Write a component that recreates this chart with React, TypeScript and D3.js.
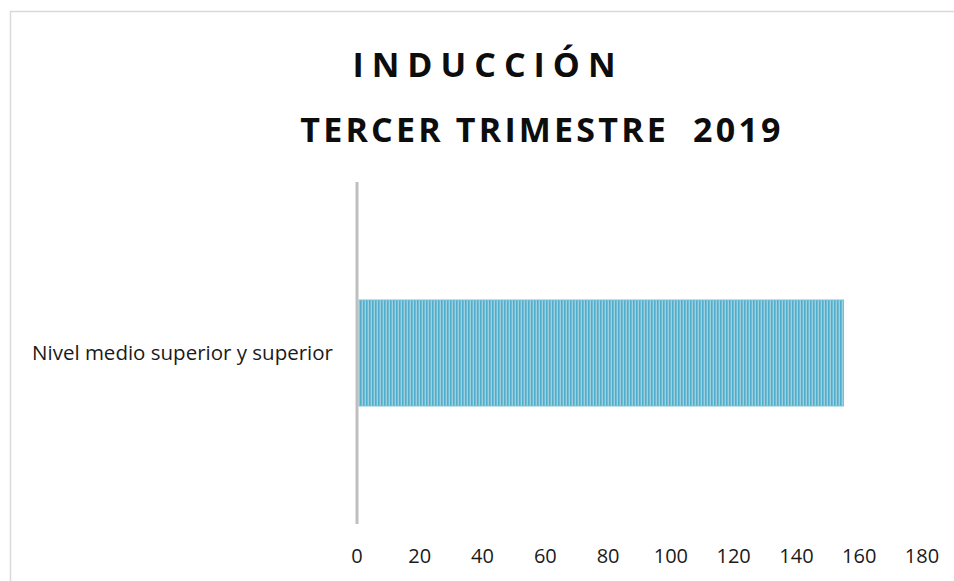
import React from "react";
import * as d3 from "d3";

const categories = ["Nivel medio superior y superior"];
const values = [155];
const xTicks = [0, 20, 40, 60, 80, 100, 120, 140, 160, 180];
const titleLines = ["INDUCCIÓN", "TERCER TRIMESTRE  2019"];

const W = 954;
const H = 581;

const App = () => {
  const margin = { top: 182, right: 32, bottom: 57, left: 357 };

  const x = d3
    .scaleLinear()
    .domain([0, 180])
    .range([margin.left, W - margin.right]);

  const y = d3
    .scaleBand()
    .domain(categories)
    .range([margin.top, H - margin.bottom])
    .paddingInner(0.527)
    .paddingOuter(0.527);

  return (
    <svg
      width={W}
      height={H}
      style={{ position: "absolute", left: 0, top: 0, background: "#fff" }}
    >
      <defs>
        <pattern id="stripes" width="3" height="10" patternUnits="userSpaceOnUse">
          <rect x="0" y="0" width="3" height="10" fill="#9fd0df" />
          <rect x="0" y="0" width="1.6" height="10" fill="#4eaecb" />
        </pattern>
      </defs>

      {/* chart border */}
      <rect x={10.5} y={11.5} width={W} height={H} fill="none" stroke="#d9d9d9" strokeWidth={1.5} />

      {/* title */}
      <text
        x={488}
        y={77}
        textAnchor="middle"
        fontFamily="'Open Sans', sans-serif"
        fontWeight="bold"
        fontSize={34}
        letterSpacing={8}
        fill="#0d0d0d"
      >
        {titleLines[0]}
      </text>
      <text
        x={542}
        y={142}
        textAnchor="middle"
        fontFamily="'Open Sans', sans-serif"
        fontWeight="bold"
        fontSize={34}
        letterSpacing={3.2}
        fill="#0d0d0d"
        style={{ whiteSpace: "pre" }}
      >
        {titleLines[1]}
      </text>

      {/* bars */}
      {categories.map((c, i) => (
        <g key={c}>
          <rect
            x={x(0) + 2}
            y={y(c)}
            width={x(values[i]) - x(0) - 2}
            height={y.bandwidth()}
            fill="url(#stripes)"
          />
          <rect
            x={x(0) + 2}
            y={y(c)}
            width={x(values[i]) - x(0) - 2}
            height={y.bandwidth()}
            fill="none"
            stroke="#74c0d6"
            strokeWidth={1}
          />
          <text
            x={333}
            y={(y(c) ?? 0) + y.bandwidth() / 2}
            dy="0.35em"
            textAnchor="end"
            fontFamily="'Open Sans', sans-serif"
            fontSize={20.5}
            fill="#1a1a1a"
          >
            {c}
          </text>
        </g>
      ))}

      {/* category axis line */}
      <line
        x1={x(0)}
        x2={x(0)}
        y1={margin.top}
        y2={H - margin.bottom}
        stroke="#bfbfbf"
        strokeWidth={3}
      />

      {/* value tick labels */}
      {xTicks.map((t) => (
        <text
          key={t}
          x={x(t)}
          y={563}
          textAnchor="middle"
          fontFamily="'Open Sans', sans-serif"
          fontSize={20}
          fill="#1a1a1a"
        >
          {t}
        </text>
      ))}
    </svg>
  );
};

export default App;
